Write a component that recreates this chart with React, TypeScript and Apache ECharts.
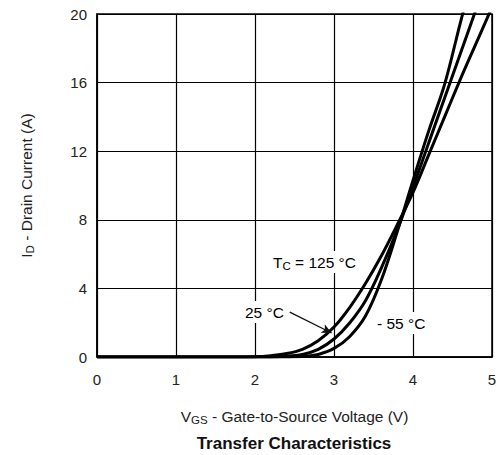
import React, { useEffect, useRef } from "react";
import * as echarts from "echarts";

// Transfer characteristics: VGS (V) vs ID (A)
const vgs125 = [0, 1.5, 2.0, 2.2, 2.4, 2.6, 2.8, 3.0, 3.2, 3.4, 3.6, 3.8, 4.0, 4.2, 4.4, 4.6, 4.8, 5.0];
const id125 = [0, 0, 0.02, 0.08, 0.2, 0.45, 0.95, 1.75, 2.9, 4.3, 5.9, 7.7, 9.6, 11.8, 14.0, 16.2, 18.3, 20.4];

const vgs25 = [0, 2.0, 2.4, 2.6, 2.8, 3.0, 3.2, 3.4, 3.6, 3.8, 4.0, 4.2, 4.4, 4.6, 4.8, 5.0];
const id25 = [0, 0, 0.05, 0.15, 0.45, 1.05, 2.0, 3.3, 5.2, 7.4, 9.9, 12.5, 15.1, 17.7, 20.3, 22.9];

const vgsM55 = [0, 2.2, 2.6, 2.8, 3.0, 3.2, 3.4, 3.6, 3.8, 4.0, 4.2, 4.4, 4.6, 4.8];
const idM55 = [0, 0, 0.03, 0.15, 0.5, 1.2, 2.4, 4.5, 7.3, 10.3, 13.2, 15.9, 19.5, 23.0];

const xTicks = [0, 1, 2, 3, 4, 5];
const yTicks = [0, 4, 8, 12, 16, 20];

// arrow for the 25 °C label: [VGS, ID] start and tip
const arrowFrom = [2.44, 2.62];
const arrowTo = [2.97, 1.4];

const FONT = "'Liberation Sans', Arial, Helvetica, sans-serif";
const TXT = "#222";

const zip = (xs: number[], ys: number[]) => xs.map((x, i) => [x, ys[i]]);

const richBase = {
  a: { fontSize: 15.5, fontFamily: FONT, color: TXT, lineHeight: 20 },
  s: { fontSize: 11.5, fontFamily: FONT, color: TXT, lineHeight: 12, padding: [8, 0, 0, 0] },
};

export default function App() {
  const ref = useRef<HTMLDivElement>(null);
  useEffect(() => {
    if (!ref.current) return;
    const chart = echarts.init(ref.current, undefined, { renderer: "svg" });
    const lineSeries = (name: string, data: number[][], extra: any = {}) => ({
      name,
      type: "line",
      data,
      showSymbol: false,
      smooth: 0.35,
      lineStyle: { color: "#000", width: 3 },
      itemStyle: { color: "#000" },
      z: 3,
      ...extra,
    });
    const labelText = (x: number, y: number, rich: string) => ({
      type: "text",
      x,
      y,
      z: 20,
      style: {
        text: rich,
        rich: richBase,
        align: "left",
        verticalAlign: "middle",
        textAlign: "left",
        textVerticalAlign: "middle",
        backgroundColor: "#fff",
        padding: [1, 2, 1, 2],
      },
    });
    chart.setOption({
      animation: false,
      backgroundColor: "#fff",
      grid: {
        left: 97,
        right: 6,
        top: 14,
        bottom: 98,
        show: true,
        borderColor: "#000",
        borderWidth: 1.5,
        containLabel: false,
        outerBoundsMode: "none",
      },
      xAxis: {
        type: "value",
        min: xTicks[0],
        max: xTicks[xTicks.length - 1],
        interval: 1,
        name: "{a|V}{s|GS}{a| - Gate-to-Source Voltage (V)}",
        nameLocation: "middle",
        nameGap: 49,
        nameTextStyle: { rich: richBase },
        axisLine: { show: true, lineStyle: { color: "#000", width: 1.5 } },
        axisTick: { show: false },
        axisLabel: { margin: 15, fontSize: 15, fontFamily: FONT, color: TXT },
        splitLine: { show: true, lineStyle: { color: "#000", width: 1.2 } },
      },
      yAxis: {
        type: "value",
        min: yTicks[0],
        max: yTicks[yTicks.length - 1],
        interval: 4,
        name: "{a|I}{s|D}{a| - Drain Current (A)}",
        nameLocation: "middle",
        nameRotate: 90,
        nameGap: 61,
        nameTextStyle: { rich: richBase },
        axisLine: { show: true, lineStyle: { color: "#000", width: 1.5 } },
        axisTick: { show: false },
        axisLabel: { margin: 10, fontSize: 15, fontFamily: FONT, color: TXT },
        splitLine: { show: true, lineStyle: { color: "#000", width: 1.2 } },
      },
      series: [
        lineSeries("125 °C", zip(vgs125, id125)),
        lineSeries("25 °C", zip(vgs25, id25), {
          markLine: {
            silent: true,
            animation: false,
            symbolSize: [7, 10],
            label: { show: false },
            lineStyle: { color: "#111", width: 1.3, type: "solid" },
            data: [[{ coord: arrowFrom, symbol: "none" }, { coord: arrowTo, symbol: "arrow" }]],
          },
        }),
        lineSeries("-55 °C", zip(vgsM55, idM55)),
      ],
      graphic: [
        labelText(271, 262, "{a|T}{s|C}{a| = 125 °C}"),
        labelText(243, 312, "{a|25 °C}"),
        labelText(375, 323, "{a|- 55 °C}"),
        {
          type: "text",
          x: 294,
          y: 443,
          z: 20,
          style: {
            text: "Transfer Characteristics",
            font: `bold 17px ${FONT}`,
            fill: "#111",
            align: "center",
            verticalAlign: "middle",
            textAlign: "center",
            textVerticalAlign: "middle",
          },
        },
      ],
    });
    return () => chart.dispose();
  }, []);
  return (
    <div
      ref={ref}
      style={{ position: "absolute", left: 0, top: 0, width: 498, height: 455, background: "#fff" }}
    />
  );
}
